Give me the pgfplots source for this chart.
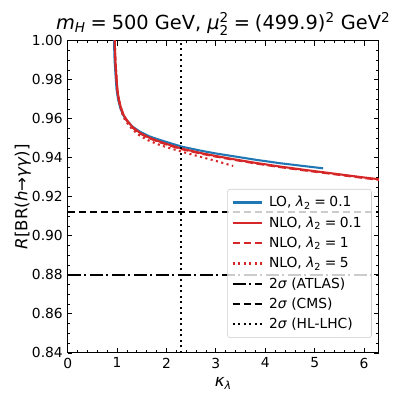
\documentclass[border=0pt]{standalone}
\usepackage{fontspec}
\setmainfont{DejaVu Sans}
\usepackage{amsmath}
\usepackage{pgfplots}
\pgfplotsset{compat=1.18}
\usetikzlibrary{calc}
\definecolor{cblue}{RGB}{31,119,180}
\definecolor{cred}{RGB}{214,39,40}
\newcommand{\eq}{\hspace{0.25em}=\hspace{0.25em}}

\begin{document}
\begin{tikzpicture}
\begin{axis}[
    name=main,
    scale only axis,
    width=225pt, height=225.7pt,
    xmin=0, xmax=6.3, ymin=0.84, ymax=1.0,
    xtick={0,1,2,3,4,5,6},
    ytick={0.84,0.86,0.88,0.90,0.92,0.94,0.96,0.98,1.00},
    minor x tick num=4,
    minor y tick num=3,
    tick align=inside,
    xtick pos=both, ytick pos=both,
    major tick length=3.5pt, minor tick length=2pt,
    axis line style={line width=0.8pt},
    every tick/.style={black, line width=0.6pt},
    yticklabel style={/pgf/number format/fixed, /pgf/number format/fixed zerofill, /pgf/number format/precision=2},
    /pgf/number format/assume math mode=true,
    tick label style={font=\fontsize{10}{12}\selectfont},
    title={\textit{m}\textsubscript{\textit{H}}\eq 500 GeV, \textit{μ}$^{\text{2}}_{\text{2}}$\eq (499.9)\textsuperscript{2} GeV\textsuperscript{2}},
    title style={font=\fontsize{14}{16}\selectfont, yshift=-6pt},
    xlabel={\textit{κ}\textsubscript{\textit{λ}}},
    ylabel={\textit{R}[BR(\textit{h}→\textit{γγ})]},
    label style={font=\fontsize{12}{14}\selectfont},
    ylabel style={yshift=-6pt},
    legend cell align=left,
    legend style={at={(0.977,0.048)}, anchor=south east, draw=black!20, fill=white,
        fill opacity=0.8, text opacity=1, rounded corners=2pt,
        font=\fontsize{10}{12}\selectfont, row sep=1.6pt, inner sep=3pt,
        nodes={inner xsep=4pt}},
    legend image code/.code={\draw[#1] (0pt,0pt) -- (21.6pt,0pt);},
    every axis plot/.append style={line width=1.5pt, line join=round},
]
% LO, lambda2 = 0.1
\addplot[cblue, no marks] coordinates {
 (0.935,1.005) (0.94,0.998) (0.95,0.990) (0.97,0.982) (0.99,0.975) (1.02,0.970)
 (1.06,0.966) (1.12,0.962) (1.19,0.9594) (1.30,0.9562) (1.46,0.9534) (1.65,0.9510)
 (1.87,0.9491) (2.10,0.9473) (2.31,0.9457) (2.70,0.9436) (3.00,0.9422) (3.35,0.9408)
 (3.80,0.9390) (4.30,0.9372) (4.80,0.9357) (5.17,0.9346)
};
\addlegendentry{LO, \textit{λ}\textsubscript{2}\eq 0.1}
% NLO, lambda2 = 0.1
\addplot[cred, no marks] coordinates {
 (0.95,1.005) (0.955,0.998) (0.965,0.990) (0.985,0.982) (1.005,0.975) (1.035,0.970)
 (1.075,0.966) (1.13,0.962) (1.20,0.9592) (1.31,0.9558) (1.46,0.9528) (1.65,0.9503)
 (1.87,0.9482) (2.10,0.9463) (2.31,0.9447) (2.70,0.9424) (3.00,0.9409) (3.35,0.9393)
 (3.80,0.9374) (4.30,0.9355) (4.80,0.9338) (5.17,0.9326) (5.60,0.9312) (6.00,0.9299)
 (6.30,0.9290)
};
\addlegendentry{NLO, \textit{λ}\textsubscript{2}\eq 0.1}
% NLO, lambda2 = 1
\addplot[cred, no marks, dash pattern=on 5.55pt off 2.4pt] coordinates {
 (0.95,1.005) (0.955,0.998) (0.965,0.990) (0.985,0.982) (1.005,0.975) (1.035,0.970)
 (1.075,0.9658) (1.13,0.9617) (1.20,0.9589) (1.31,0.9555) (1.46,0.9525) (1.65,0.9500)
 (1.87,0.9479) (2.10,0.9460) (2.31,0.9444) (2.70,0.9421) (3.00,0.9406) (3.35,0.9390)
 (3.80,0.9371) (4.30,0.9352) (4.80,0.9335) (5.17,0.9323) (5.60,0.9309) (6.00,0.9296)
 (6.30,0.9287)
};
\addlegendentry{NLO, \textit{λ}\textsubscript{2}\eq 1}
% NLO, lambda2 = 5
\addplot[cred, no marks, dash pattern=on 1.5pt off 2.475pt] coordinates {
 (0.95,1.005) (0.955,0.998) (0.965,0.990) (0.985,0.982) (1.005,0.975) (1.035,0.9695)
 (1.075,0.9650) (1.13,0.9608) (1.20,0.9580) (1.31,0.9545) (1.46,0.9513) (1.65,0.9487)
 (1.87,0.9465) (2.10,0.9447) (2.31,0.9431) (2.70,0.9404) (3.00,0.9384) (3.35,0.9358)
};
\addlegendentry{NLO, \textit{λ}\textsubscript{2}\eq 5}
% experimental bounds
\addplot[black, no marks, dash pattern=on 9.6pt off 2.4pt on 1.5pt off 2.4pt] coordinates {(0,0.88) (6.3,0.88)};
\addlegendentry{2\textit{σ} (ATLAS)}
\addplot[black, no marks, dash pattern=on 5.55pt off 2.4pt] coordinates {(0,0.912) (6.3,0.912)};
\addlegendentry{2\textit{σ} (CMS)}
\addplot[black, no marks, dash pattern=on 1.5pt off 2.475pt] coordinates {(2.3,0.84) (2.3,1.0)};
\addlegendentry{2\textit{σ} (HL-LHC)}
\end{axis}
\path ($(main.south west)+(-48.9pt,-33.2pt)$) rectangle ($(main.north east)+(14.5pt,29.4pt)$);
\end{tikzpicture}
\end{document}
